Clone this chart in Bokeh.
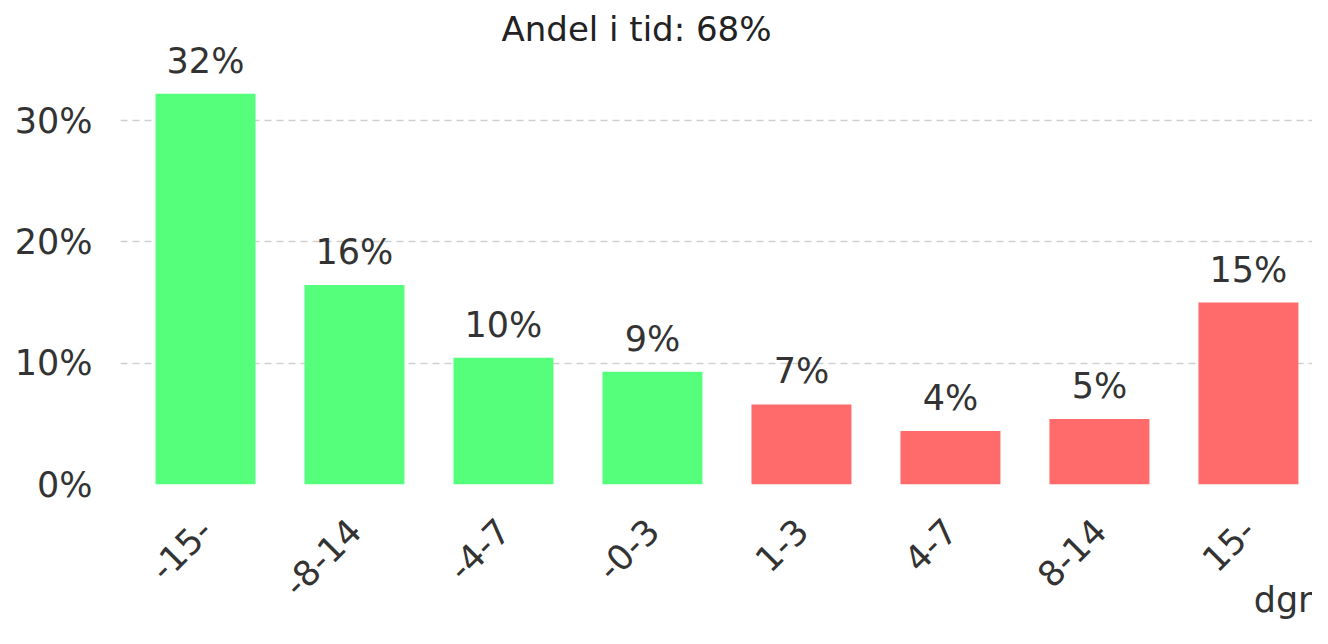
import math
from bokeh.plotting import figure
from bokeh.models import (ColumnDataSource, Range1d, FixedTicker, PrintfTickFormatter,
                          LabelSet, Title)
from bokeh.core.properties import value
from bokeh.embed import file_html
from bokeh.resources import INLINE

# ---- data ----
categories = ["-15-", "-8-14", "-4-7", "-0-3", "1-3", "4-7", "8-14", "15-"]
shares = [32.2, 16.45, 10.45, 9.3, 6.6, 4.4, 5.4, 15.0]
title_text = "Andel i tid: 68%"
x_title = "dgr"
y_ticks = [0, 10, 20, 30]

GREEN = "#55ff7c"
RED = "#ff6a6a"
FONT = "DejaVu Sans"
TXT = "#333333"

xs = list(range(len(categories)))
colors = [GREEN if c.startswith("-") else RED for c in categories]
labels = [f"{round(v)}%" for v in shares]
src = ColumnDataSource(dict(x=xs, top=shares, color=colors, label=labels))

p = figure(width=1312, height=628, output_backend="svg", toolbar_location=None,
           x_range=Range1d(-0.5705, 7.430), y_range=Range1d(0, 36.27),
           min_border_left=120, min_border_right=0, min_border_top=44,
           min_border_bottom=144, outline_line_color=None)

p.title.text = title_text
p.title.align = "left"
p.title.offset = 381
p.title.standoff = -9
p.title.text_font = FONT
p.title.text_font_size = "34px"
p.title.text_font_style = "normal"
p.title.text_color = "#222222"

p.vbar(x="x", top="top", width=0.671, color="color", source=src, line_color=None)

p.add_layout(LabelSet(x="x", y="top", text="label", source=src, y_offset=21,
                      text_align="center", text_baseline="alphabetic",
                      text_font=value(FONT), text_font_size=value("35px"),
                      text_color=TXT))

# axes
p.xaxis.ticker = FixedTicker(ticks=xs)
p.xaxis.major_label_overrides = {i: c for i, c in enumerate(categories)}
p.xaxis.major_label_orientation = math.pi / 4
p.yaxis.ticker = FixedTicker(ticks=y_ticks)
p.yaxis.formatter = PrintfTickFormatter(format="%d%%")
for ax in (p.xaxis, p.yaxis):
    ax.axis_line_color = None
    ax.major_tick_line_color = None
    ax.minor_tick_line_color = None
    ax.major_label_text_font = FONT
    ax.major_label_text_font_size = "35px"
    ax.major_label_text_color = TXT
p.yaxis.major_label_standoff = 22
p.xaxis.major_label_standoff = 34

p.xgrid.grid_line_color = None
p.ygrid.grid_line_color = "#cfcfcf"
p.ygrid.grid_line_dash = "7 5"
p.ygrid.grid_line_width = 1.5

p.add_layout(Title(text=x_title, align="right", offset=0, text_font=FONT,
                   text_font_size="35px", text_font_style="normal",
                   vertical_align="top", text_color=TXT, standoff=-62), "below")

open("out.html", "w").write(file_html(p, INLINE))
